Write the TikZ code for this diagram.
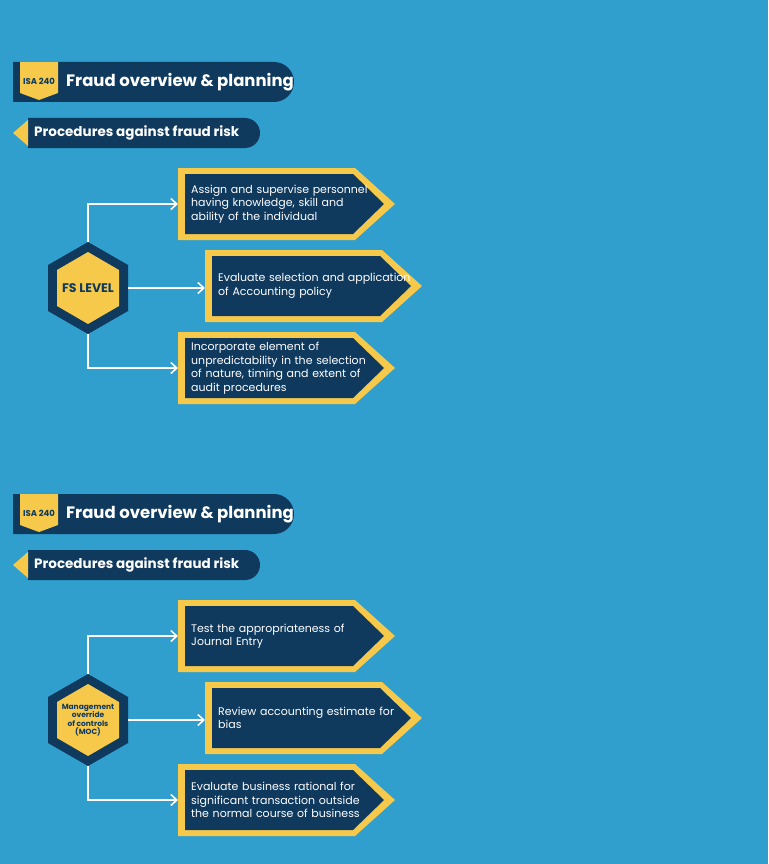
\documentclass[tikz,border=0pt]{standalone}
\usepackage{fontspec}
\setmainfont{Poppins}
\usetikzlibrary{arrows.meta}
\definecolor{bg}{HTML}{309FCE}
\definecolor{navy}{HTML}{0F3A5E}
\definecolor{gold}{HTML}{F6C94A}
\tikzset{
 boxtext/.style={anchor=west,text=white,font=\fontsize{11}{13.5}\selectfont,align=left,inner sep=0pt,text width=200pt},
 conn/.style={draw=white,line width=1.6pt,-{Straight Barb[length=6pt,width=11pt]}},
 titletext/.style={anchor=west,text=white,font=\fontsize{16.5}{19}\selectfont\bfseries,inner sep=0pt},
 subtext/.style={anchor=west,text=white,font=\fontsize{13.5}{15}\selectfont\bfseries,inner sep=0pt},
}
\newcommand{\arrowbox}[4]{% name, x, y, text
 \fill[gold] (#2,#3) -- ++(177,0) -- ++(40,36) -- ++(-40,36) -- ++(-177,0) -- cycle;
 \fill[navy] (#2+7,#3+6) -- ++(168,0) -- ++(31,30) -- ++(-31,30) -- ++(-168,0) -- cycle;
 \coordinate (#1) at (#2,#3+36);
 \node[boxtext] (#1t) at (#2+13,#3+36) {#4};
}
\newcommand{\hexnode}[5]{% name, cx, cy, font, text
 \fill[navy] (#2,#3-46) -- (#2+40,#3-23) -- (#2+40,#3+23) -- (#2,#3+46) -- (#2-40,#3+23) -- (#2-40,#3-23) -- cycle;
 \fill[gold] (#2,#3-36) -- (#2+31,#3-18) -- (#2+31,#3+18) -- (#2,#3+36) -- (#2-31,#3+18) -- (#2-31,#3-18) -- cycle;
 \node[inner sep=0pt,align=center,text=navy,font=#4] (#1) at (#2,#3) {#5};
 \coordinate (#1N) at (#2,#3-46);
 \coordinate (#1S) at (#2,#3+46);
 \coordinate (#1E) at (#2+40,#3);
}
\newcommand{\header}[2]{% name, y offset
 \fill[navy] (13,62+#2) -- (274,62+#2) arc[start angle=-90,end angle=90,radius=20] -- (13,102+#2) -- cycle;
 \fill[gold] (20,62+#2) -- (58,62+#2) -- (58,93+#2) -- (39,100+#2) -- (20,93+#2) -- cycle;
 \node[inner sep=0pt,text=navy,font=\fontsize{8.5}{10}\selectfont\bfseries] (#1b) at (39,81+#2) {ISA 240};
 \node[titletext] (#1t) at (66,82+#2) {Fraud overview \& planning};
 \fill[navy] (28,118+#2) -- (245,118+#2) arc[start angle=-90,end angle=90,radius=15] -- (28,148+#2) -- cycle;
 \fill[gold] (28,120+#2) -- (28,146+#2) -- (13,133+#2) -- cycle;
 \node[subtext] (#1s) at (34,133+#2) {Procedures against fraud risk};
}
\begin{document}
\begin{tikzpicture}[x=1pt,y=-1pt]
\fill[bg] (0,0) rectangle (768,864);
\useasboundingbox (0,0) rectangle (768,864);
% section 1
\header{h1}{0}
\arrowbox{b1}{178}{168}{Assign and supervise personnel\\having knowledge, skill and\\ability of the individual}
\arrowbox{b2}{205}{250}{Evaluate selection and application\\of Accounting policy}
\arrowbox{b3}{178}{332}{Incorporate element of\\unpredictability in the selection\\of nature, timing and extent of\\audit procedures}
\hexnode{f1}{88}{288}{\fontsize{12.5}{14}\selectfont\bfseries}{FS LEVEL}
\draw[conn] (f1N) |- (b1);
\draw[conn] (f1E) -- (f1E -| b2);
\draw[conn] (f1S) |- (b3);
% section 2
\header{h2}{432}
\arrowbox{c1}{178}{600}{Test the appropriateness of\\Journal Entry}
\arrowbox{c2}{205}{682}{Review accounting estimate for\\bias}
\arrowbox{c3}{178}{764}{Evaluate business rational for\\significant transaction outside\\the normal course of business}
\hexnode{f2}{88}{720}{\fontsize{7.5}{8.5}\selectfont\bfseries}{Management\\override\\of controls\\(MOC)}
\draw[conn] (f2N) |- (c1);
\draw[conn] (f2E) -- (f2E -| c2);
\draw[conn] (f2S) |- (c3);
\end{tikzpicture}
\end{document}
